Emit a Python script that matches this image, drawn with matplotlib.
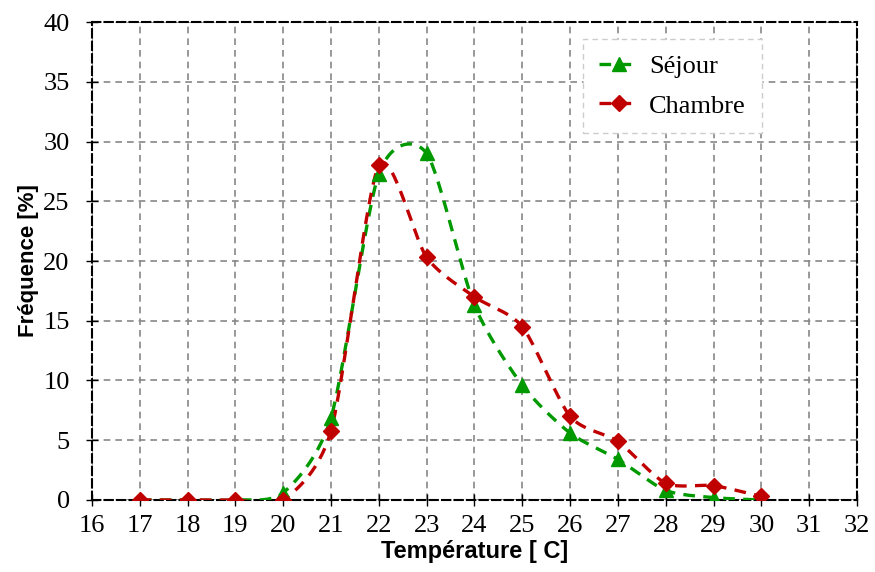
import matplotlib
matplotlib.use("Agg")
import matplotlib.pyplot as plt
import numpy as np

temperature = [17, 18, 19, 20, 21, 22, 23, 24, 25, 26, 27, 28, 29, 30]
sejour = [0, 0, 0, 0.6, 6.9, 27.3, 29.0, 16.3, 9.6, 5.6, 3.4, 0.8, 0.2, 0.0]
chambre = [0, 0, 0, 0, 5.8, 28.0, 20.3, 17.0, 14.5, 7.0, 4.9, 1.4, 1.2, 0.3]
series_names = ["Séjour", "Chambre"]


def smooth(x, y, n=30, k=8.0):
    """Excel-like smoothed line: Catmull-Rom style cubic Beziers through the points."""
    p = np.column_stack([x, y]).astype(float)
    p_ext = np.vstack([p[0], p, p[-1]])
    out = []
    t = np.linspace(0, 1, n)[:, None]
    for i in range(1, len(p_ext) - 2):
        p0, p1, p2, p3 = p_ext[i - 1], p_ext[i], p_ext[i + 1], p_ext[i + 2]
        c1 = p1 + (p2 - p0) / k
        c2 = p2 - (p3 - p1) / k
        seg = ((1 - t) ** 3) * p1 + 3 * ((1 - t) ** 2) * t * c1 \
            + 3 * (1 - t) * t ** 2 * c2 + t ** 3 * p2
        out.append(seg if i == 1 else seg[1:])
    out = np.vstack(out)
    return out[:, 0], out[:, 1]


fig = plt.figure(figsize=(8.75, 5.72), dpi=100)
ax = fig.add_axes([0.1051, 0.1259, 0.8743, 0.8356])

styles = [
    dict(color="#009900", marker="^", ms=10),
    dict(color="#c00000", marker="D", ms=8.5),
]
for vals, name, st in zip([sejour, chambre], series_names, styles):
    sx, sy = smooth(temperature, vals)
    ax.plot(sx, sy, color=st["color"], lw=2.4, dashes=(3.5, 2.5), zorder=3)
    ax.plot(temperature, vals, ls="none", marker=st["marker"], ms=st["ms"],
            color=st["color"], zorder=4)
    # legend proxy
    ax.plot([], [], color=st["color"], lw=2.4, dashes=(3.5, 2.5),
            marker=st["marker"], ms=st["ms"], label=name)

ax.set_xlim(16, 32)
ax.set_ylim(0, 40)
ax.set_xticks(range(16, 33))
ax.set_yticks(range(0, 41, 5))
ax.grid(True, color="#888888", ls=(0, (4, 3)), lw=1.2, zorder=0)
for s in ax.spines.values():
    s.set_linestyle((0, (4, 2)))
    s.set_linewidth(1.5)
    s.set_color("black")
ax.tick_params(direction="inout", length=8, width=1, labelsize=19)
ax.tick_params(axis="x", pad=7)
ax.tick_params(axis="y", pad=12)
for lab in ax.get_xticklabels() + ax.get_yticklabels():
    lab.set_fontfamily("Liberation Serif")

ax.set_xlabel("Température [ C]", fontsize=17, fontweight="bold",
              family="Liberation Sans", labelpad=2)
ax.set_ylabel("Fréquence [%]", fontsize=16, fontweight="bold",
              family="Liberation Sans", labelpad=3)

leg = ax.legend(loc="upper left", bbox_to_anchor=(0.625, 0.992),
                prop={"family": "Liberation Serif", "size": 19},
                handlelength=1.5, frameon=True, fancybox=False,
                borderpad=0.6, labelspacing=0.6, handletextpad=0.4)
frame = leg.get_frame()
frame.set_edgecolor("#cccccc")
frame.set_linestyle((0, (4, 3)))
frame.set_alpha(1)

fig.savefig("out.png", dpi=100)
